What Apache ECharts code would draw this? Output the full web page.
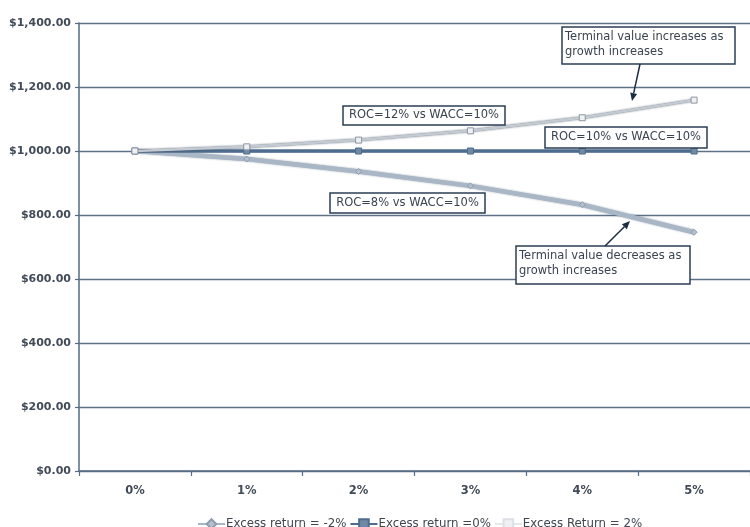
<!DOCTYPE html>
<html>
<head>
<meta charset="utf-8">
<script src="https://cdn.jsdelivr.net/npm/echarts@6/dist/echarts.min.js"></script>
<style>
  html, body { margin: 0; padding: 0; background: #ffffff; }
  #chart { width: 750px; height: 527px; }
</style>
</head>
<body>
<div id="chart"></div>
<script>
// ---- data ----
var categories = ['0%', '1%', '2%', '3%', '4%', '5%'];
var seriesNames = ['Excess return = -2%', 'Excess return =0%', 'Excess Return = 2%'];
var excessMinus2 = [1000, 975, 936, 891, 832, 746];
var excessZero = [1000, 1000, 1000, 1000, 1000, 1000];
var excessPlus2 = [1000, 1013, 1034, 1063, 1104, 1159];
var yTickLabels = ['$0.00', '$200.00', '$400.00', '$600.00', '$800.00', '$1,000.00', '$1,200.00', '$1,400.00'];
var annotationTexts = [
  'Terminal value increases as\ngrowth increases',
  'ROC=12% vs WACC=10%',
  'ROC=10% vs WACC=10%',
  'ROC=8% vs WACC=10%',
  'Terminal value decreases as\ngrowth increases'
];

var FONT = 'DejaVu Sans';
var BORDER = '#2c3e56';
var TEXTC = '#3a4350';

function box(x, y, w, h, text, multi) {
  return {
    type: 'group',
    children: [
      { type: 'rect', shape: { x: x, y: y, width: w, height: h },
        style: { fill: '#ffffff', stroke: BORDER, lineWidth: 1.5 }, z: 10 },
      { type: 'text', x: multi ? x + 3 : x + w / 2, y: multi ? y + 3 : y + h / 2,
        style: { text: text, fill: TEXTC, font: '11.5px "' + FONT + '"',
                 textAlign: multi ? 'left' : 'center', textVerticalAlign: multi ? 'top' : 'middle',
                 lineHeight: 15 }, z: 11 }
    ]
  };
}
function arrow(x1, y1, x2, y2) {
  var ang = Math.atan2(y2 - y1, x2 - x1);
  var L = 8, W = 3.5;
  var bx = x2 - L * Math.cos(ang), by = y2 - L * Math.sin(ang);
  var px = -Math.sin(ang) * W, py = Math.cos(ang) * W;
  return {
    type: 'group',
    children: [
      { type: 'line', shape: { x1: x1, y1: y1, x2: bx, y2: by },
        style: { stroke: '#1f2d40', lineWidth: 1.5 }, z: 12 },
      { type: 'polygon', shape: { points: [[x2, y2], [bx + px, by + py], [bx - px, by - py]] },
        style: { fill: '#1f2d40' }, z: 12 }
    ]
  };
}

var chart = echarts.init(document.getElementById('chart'), null, { renderer: 'canvas' });
var option = {
  backgroundColor: '#ffffff',
  animation: false,
  textStyle: { fontFamily: FONT },
  grid: { left: 79, right: -9, top: 23, bottom: 56, containLabel: false },
  legend: {
    left: 192, top: 513,
    itemWidth: 27, itemHeight: 12, itemGap: 3,
    textStyle: { fontFamily: FONT, fontSize: 11.8, color: '#3f4650', padding: [0, 0, 0, -4] },
    data: [
      { name: seriesNames[0] },
      { name: seriesNames[1] },
      { name: seriesNames[2], lineStyle: { color: '#e4e7eb', shadowBlur: 0 },
        itemStyle: { color: '#eef0f2', borderColor: '#dde1e6' } }
    ]
  },
  xAxis: {
    type: 'category',
    data: categories,
    boundaryGap: true,
    axisLine: { lineStyle: { color: '#566b84', width: 1.5 } },
    axisTick: { show: true, length: 5, lineStyle: { color: '#566b84', width: 1.2 } },
    axisLabel: { margin: 14, fontFamily: FONT, fontSize: 11.5, fontWeight: 'bold', color: '#414b57' },
    splitLine: { show: false }
  },
  yAxis: {
    type: 'value',
    min: 0, max: 1400, interval: 200,
    axisLine: { show: true, lineStyle: { color: '#566b84', width: 1.5 } },
    axisTick: { show: true, length: 4, lineStyle: { color: '#566b84', width: 1.2 } },
    axisLabel: {
      margin: 8, fontFamily: FONT, fontSize: 11, fontWeight: 'bold', color: '#414b57',
      formatter: function (v) { return yTickLabels[Math.round(v / 200)]; }
    },
    splitLine: { show: true, lineStyle: { color: '#5d7189', width: 1.3 } }
  },
  series: [
    {
      name: seriesNames[0], type: 'line', data: excessMinus2,
      symbol: 'diamond', symbolSize: 6,
      lineStyle: { color: '#a9b6c6', width: 4.5, shadowColor: 'rgba(80,95,115,0.6)', shadowBlur: 2 },
      itemStyle: { color: '#b3bfcd', borderColor: '#8e9cad', borderWidth: 1 },
      z: 3
    },
    {
      name: seriesNames[1], type: 'line', data: excessZero,
      symbol: 'rect', symbolSize: 6,
      lineStyle: { color: '#4e6c8e', width: 3.5 },
      itemStyle: { color: '#7089a5', borderColor: '#4e6c8e', borderWidth: 1 },
      z: 4
    },
    {
      name: seriesNames[2], type: 'line', data: excessPlus2,
      symbol: 'rect', symbolSize: 6,
      lineStyle: { color: '#c3cad2', width: 2.5, shadowColor: 'rgba(70,80,95,0.9)', shadowBlur: 2 },
      itemStyle: { color: '#eef0f2', borderColor: '#8c96a2', borderWidth: 1 },
      z: 5
    }
  ],
  graphic: [
    box(562, 27, 173, 37, annotationTexts[0], true),
    box(343, 106, 162, 19, annotationTexts[1], false),
    box(545, 127, 162, 21, annotationTexts[2], false),
    box(330, 193, 155, 20, annotationTexts[3], false),
    box(516, 246, 174, 38, annotationTexts[4], true),
    arrow(640, 64, 632, 101),
    arrow(605, 246, 630, 221)
  ]
};
chart.setOption(option);
</script>
</body>
</html>
